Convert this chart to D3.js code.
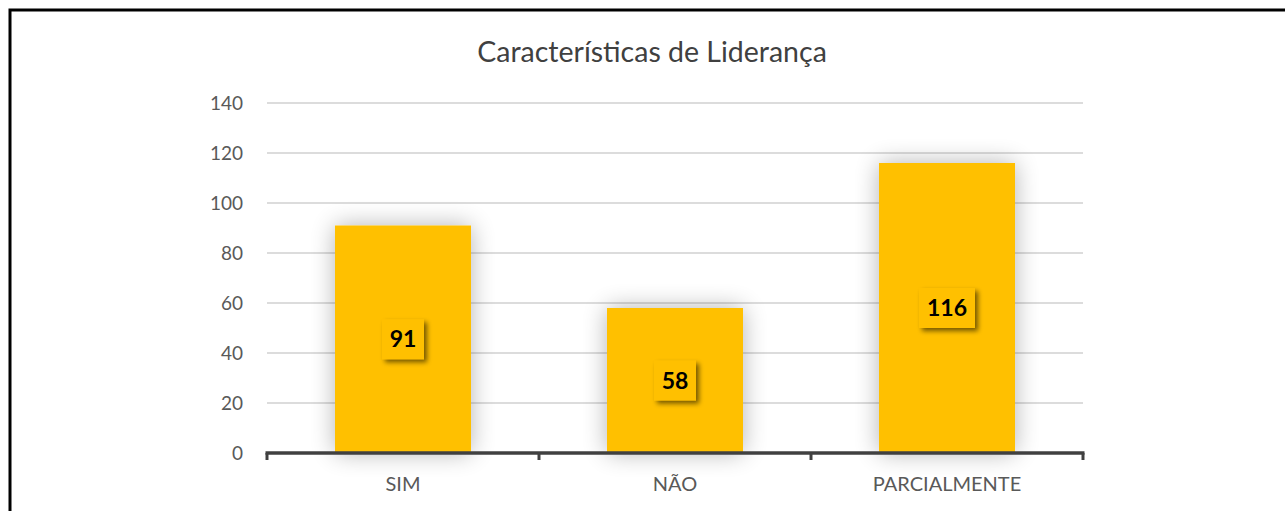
<!DOCTYPE html>
<html>
<head>
<meta charset="utf-8">
<script src="https://cdn.jsdelivr.net/npm/d3@7"></script>
<style>
  html, body { margin: 0; padding: 0; background: #fff; }
  svg { display: block; font-family: Lato, "Open Sans", sans-serif; }
</style>
</head>
<body>
<svg id="chart" width="1285" height="511"></svg>
<script>
(function () {
  "use strict";

  // data
  var categories = ["SIM", "NÃO", "PARCIALMENTE"];
  var values = [91, 58, 116];
  var yTicks = [0, 20, 40, 60, 80, 100, 120, 140];
  var title = "Características de Liderança";

  var svg = d3.select("#chart");
  var margin = { left: 267, right: 202, top: 103, bottom: 58 };
  var width = 1285, height = 511;

  // outer frame, right and bottom edges run off the picture
  svg.append("rect")
      .attr("x", 10).attr("y", 10)
      .attr("width", 1300).attr("height", 520)
      .attr("fill", "none")
      .attr("stroke", "#000")
      .attr("stroke-width", 3);

  var defs = svg.append("defs");
  var glow = defs.append("filter").attr("id", "barGlow")
      .attr("x", "-40%").attr("y", "-20%").attr("width", "180%").attr("height", "140%");
  glow.append("feGaussianBlur").attr("in", "SourceAlpha").attr("stdDeviation", 12).attr("result", "b");
  glow.append("feComponentTransfer").attr("in", "b").attr("result", "s")
    .append("feFuncA").attr("type", "linear").attr("slope", 0.3);
  var gm = glow.append("feMerge");
  gm.append("feMergeNode").attr("in", "s");
  gm.append("feMergeNode").attr("in", "SourceGraphic");

  var boxShadow = defs.append("filter").attr("id", "boxShadow")
      .attr("x", "-30%").attr("y", "-30%").attr("width", "170%").attr("height", "170%");
  boxShadow.append("feGaussianBlur").attr("in", "SourceAlpha").attr("stdDeviation", 2.5).attr("result", "b");
  boxShadow.append("feOffset").attr("in", "b").attr("dx", 3).attr("dy", 3).attr("result", "o");
  boxShadow.append("feComponentTransfer").attr("in", "o").attr("result", "s")
    .append("feFuncA").attr("type", "linear").attr("slope", 0.55);
  var bm = boxShadow.append("feMerge");
  bm.append("feMergeNode").attr("in", "s");
  bm.append("feMergeNode").attr("in", "SourceGraphic");

  var x = d3.scaleBand()
      .domain(categories)
      .range([margin.left, width - margin.right])
      .paddingInner(0.5)
      .paddingOuter(0.25);

  var y = d3.scaleLinear()
      .domain([0, 140])
      .range([height - margin.bottom, margin.top]);

  // title
  svg.append("text")
      .attr("x", 652).attr("y", 62)
      .attr("text-anchor", "middle")
      .attr("font-size", 28.5)
      .attr("fill", "#404040")
      .text(title);

  // gridlines
  svg.append("g")
      .selectAll("line")
      .data(yTicks.filter(function (d) { return d > 0; }))
      .join("line")
      .attr("x1", margin.left).attr("x2", width - margin.right)
      .attr("y1", function (d) { return y(d); })
      .attr("y2", function (d) { return y(d); })
      .attr("stroke", "#d0d0d0")
      .attr("stroke-width", 1.5);

  // y axis labels
  var yAxis = d3.axisLeft(y).tickValues(yTicks).tickSize(0).tickPadding(24);
  var gy = svg.append("g")
      .attr("transform", "translate(" + margin.left + ",0)")
      .call(yAxis);
  gy.select(".domain").remove();
  gy.selectAll("text")
      .attr("font-size", 19)
      .attr("font-family", "Lato, sans-serif")
      .attr("fill", "#595959");

  // bars
  svg.append("g")
      .selectAll("rect")
      .data(values)
      .join("rect")
      .attr("x", function (d, i) { return x(categories[i]); })
      .attr("y", function (d) { return y(d); })
      .attr("width", x.bandwidth())
      .attr("height", function (d) { return y(0) - y(d); })
      .attr("fill", "#FFC000")
      .attr("filter", "url(#barGlow)");

  // x axis
  var xAxisG = svg.append("g")
      .attr("transform", "translate(0," + y(0) + ")");
  xAxisG.append("line")
      .attr("x1", margin.left - 1.5).attr("x2", width - margin.right + 1.5)
      .attr("stroke", "#404040").attr("stroke-width", 3.5);
  var step = x.step();
  var bounds = d3.range(categories.length + 1).map(function (i) { return margin.left + i * step; });
  xAxisG.selectAll("line.tick")
      .data(bounds)
      .join("line")
      .attr("class", "tick")
      .attr("x1", function (d) { return d; }).attr("x2", function (d) { return d; })
      .attr("y1", 0).attr("y2", 7)
      .attr("stroke", "#404040").attr("stroke-width", 3);
  xAxisG.selectAll("text")
      .data(categories)
      .join("text")
      .attr("x", function (d) { return x(d) + x.bandwidth() / 2; })
      .attr("y", 38)
      .attr("text-anchor", "middle")
      .attr("font-size", 20)
      .attr("fill", "#595959")
      .text(function (d) { return d; });

  // data labels
  var labels = svg.append("g")
      .selectAll("g")
      .data(values)
      .join("g")
      .attr("transform", function (d, i) {
        return "translate(" + (x(categories[i]) + x.bandwidth() / 2) + "," + ((y(d) + y(0)) / 2) + ")";
      });
  labels.append("rect")
      .attr("x", function (d) { return String(d).length > 2 ? -28 : -21; })
      .attr("y", -20)
      .attr("width", function (d) { return String(d).length > 2 ? 56 : 42; })
      .attr("height", 40)
      .attr("fill", "#FFC000")
      .attr("filter", "url(#boxShadow)");
  labels.append("text")
      .attr("text-anchor", "middle")
      .attr("dy", "0.35em")
      .attr("font-size", 23)
      .attr("font-weight", "bold")
      .attr("fill", "#000")
      .text(function (d) { return d; });
}());
</script>
</body>
</html>
